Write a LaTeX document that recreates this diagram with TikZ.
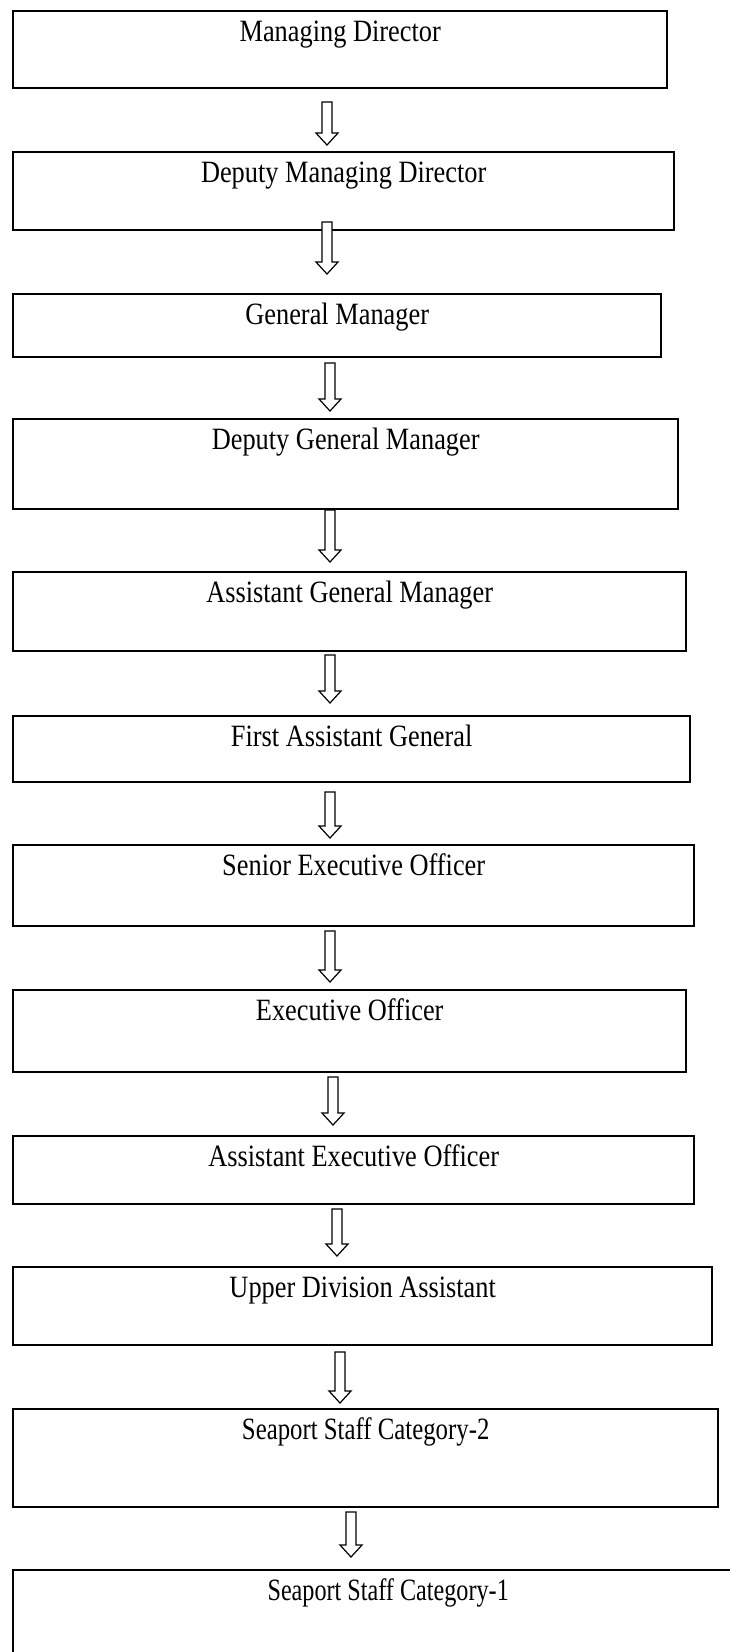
\documentclass[tikz,border=0pt]{standalone}
\usepackage{graphicx}
\usepackage{fontspec}
\setmainfont{Liberation Serif}
\usetikzlibrary{calc}

% narrow the lettering a little, as in the scan
\newcommand{\lbl}[2]{\scalebox{#1}[1]{#2}}

\tikzset{
  post/.style={draw, line width=2.4pt, anchor=north west, inner sep=0pt,
    text height=30pt},
  hollow/.style={draw, fill=white, line width=1.2pt, to path={
    let \p1=(\tikztostart), \p2=(\tikztotarget) in
    ({\x1-5pt},\y1) -- ({\x1+5pt},\y1) -- ({\x1+5pt},{\y2+12pt})
    -- ({\x1+11pt},{\y2+12pt}) -- (\x1,\y2) -- ({\x1-11pt},{\y2+12pt})
    -- ({\x1-5pt},{\y2+12pt}) -- cycle}}
}

\begin{document}
\begin{tikzpicture}[
    x=1pt,
    y=-1pt,
    font=\fontsize{31}{36}\selectfont
  ]
    \useasboundingbox (0,0) rectangle (730,1652);
    \clip (0,0) rectangle (730,1652);

    % Ranks, top to bottom (name/top/right/bottom/squeeze/text)
    \foreach \nm/\tp/\rt/\bt/\sq/\txt [evaluate=\bt as \boxdp using \bt-\tp-30,
        evaluate=\rt as \boxwd using \rt-12] in {
      md/10/666/87/0.85/Managing Director,
      dmd/151/673/229/0.85/Deputy Managing Director,
      gm/293/660/356/0.85/General Manager,
      dgm/418/677/508/0.85/Deputy General Manager,
      agm/571/685/650/0.85/Assistant General Manager,
      fag/715/689/781/0.85/First Assistant General,
      seo/844/693/925/0.85/Senior Executive Officer,
      eo/989/685/1071/0.85/Executive Officer,
      aeo/1135/693/1203/0.85/Assistant Executive Officer,
      uda/1266/711/1344/0.85/Upper Division Assistant,
      ssb/1408/717/1506/0.80/Seaport Staff Category-2,
      ssa/1569/762/1689/0.78/Seaport Staff Category-1} {
      \node[post, minimum width=\boxwd pt, text depth=\boxdp pt] (\nm)
        at (12,\tp) {\lbl{\sq}{\txt}};
    }

    % Block arrows between the ranks
    \foreach \x/\t/\h [count=\i] in {327/102/145, 327/222/274, 330/363/411,
        330/510/562, 330/655/703, 330/792/838, 330/931/982, 333/1077/1125,
        337/1209/1256, 340/1352/1403, 351/1512/1557} {
      \coordinate (t\i) at (\x,\t);
      \coordinate (h\i) at (\x,\h);
      \draw[hollow] (t\i) to (h\i);
    }
\end{tikzpicture}
\end{document}
